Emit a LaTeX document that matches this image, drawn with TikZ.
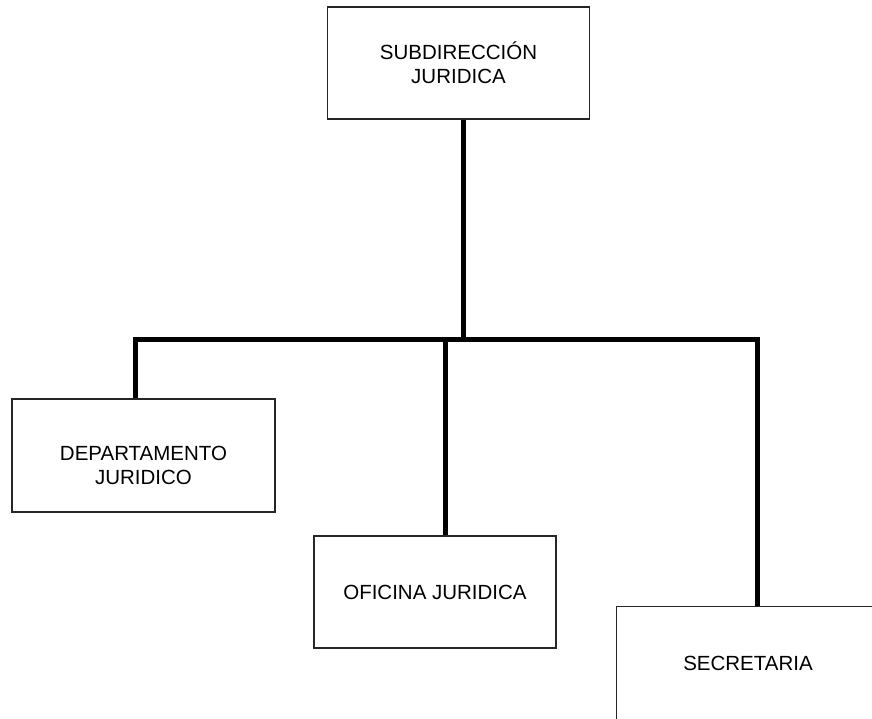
\documentclass[tikz,border=0pt]{standalone}
\usepackage{fontspec}
\setmainfont{Liberation Sans}
\usepackage{tikz}
\usetikzlibrary{positioning}

\tikzset{
  unitbox/.style={draw=black!85, line width=1.1pt, minimum width=262pt, minimum height=112pt,
    align=center, inner sep=0pt, font=\fontsize{20.5}{24}\selectfont},
  busline/.style={line width=5pt, line join=miter}
}

\begin{document}
\begin{tikzpicture}[x=1pt,y=-1pt]
			%%Location
			\useasboundingbox (0,0) rectangle (872,718);
			\clip (0,0) rectangle (872,718);
			
			%%Boxes
			\node[unitbox] (sub) at (458.5,63) {SUBDIRECCIÓN\\JURIDICA};
			\node[unitbox, minimum width=263pt, minimum height=113pt, text height=57pt, text depth=0pt] (dep) at (143.5,455.5) {DEPARTAMENTO\\JURIDICO};
			\node[unitbox, minimum width=242pt] (ofi) at (435,592) {OFICINA JURIDICA};
			\node[unitbox, draw=none] (sec) at (748,663) {SECRETARIA};
			\draw[black!85, line width=1.1pt] (sec.south west) |- ([xshift=10pt]sec.north east);
			
			%%Bus
			\coordinate (bus) at (463,339);
			\coordinate (dL) at (135,339);
			\coordinate (dM) at (445,339);
			\coordinate (dR) at (757,339);
			
			%%Lines
			\draw[busline] (sub.south -| bus) -- (bus);
			\draw[busline] (dL |- dep.north) -- (dL) -- (dR) -- (dR |- sec.north);
			\draw[busline] (dM) -- (dM |- ofi.north);
			
\end{tikzpicture}
\end{document}
